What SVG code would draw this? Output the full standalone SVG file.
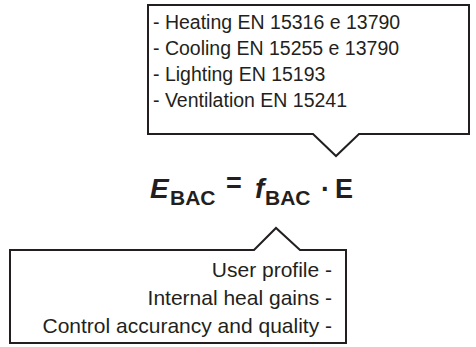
<svg xmlns="http://www.w3.org/2000/svg" width="476" height="347" viewBox="0 0 476 347">
<style>
.box{fill:#fff;stroke:#231f20;stroke-width:2;stroke-linejoin:miter}
.t{font-family:"Liberation Sans",Arial,sans-serif;fill:#231f20}
.tt{font-size:19.5px}
.bt{font-size:21px}
.f{font-family:"Liberation Sans",Arial,sans-serif;font-weight:bold;fill:#231f20}
</style>
<rect width="476" height="347" fill="#fff"/>
<g id="top-box">
<path class="box" d="M148,5 H469 V134 H359 L336,156 L313,134 H148 Z"/>
<text class="t tt" x="153" y="29">- Heating EN 15316 e 13790</text>
<text class="t tt" x="153" y="55">- Cooling EN 15255 e 13790</text>
<text class="t tt" x="153" y="81">- Lighting EN 15193</text>
<text class="t tt" x="153" y="107">- Ventilation EN 15241</text>
</g>
<g id="formula">
<text class="f" x="150" y="198" font-size="28" font-style="italic">E</text>
<text class="f" x="170" y="205" font-size="21">BAC</text>
<text class="f" x="226" y="192" font-size="27">=</text>
<text class="f" x="255" y="198" font-size="28" font-style="italic">f</text>
<text class="f" x="265" y="205" font-size="21">BAC</text>
<text class="f" x="321" y="198" font-size="27">·</text>
<text class="f" x="335" y="198" font-size="27">E</text>
</g>
<g id="bottom-box">
<path class="box" d="M10,250 H254 L276,228 L300,250 H346 V343 H10 Z"/>
<text class="t bt" x="332" y="277" text-anchor="end">User profile -</text>
<text class="t bt" x="332" y="305" text-anchor="end">Internal heal gains -</text>
<text class="t bt" x="332" y="333" text-anchor="end">Control accurancy and quality -</text>
</g>
<g id="connectors"/>
</svg>
